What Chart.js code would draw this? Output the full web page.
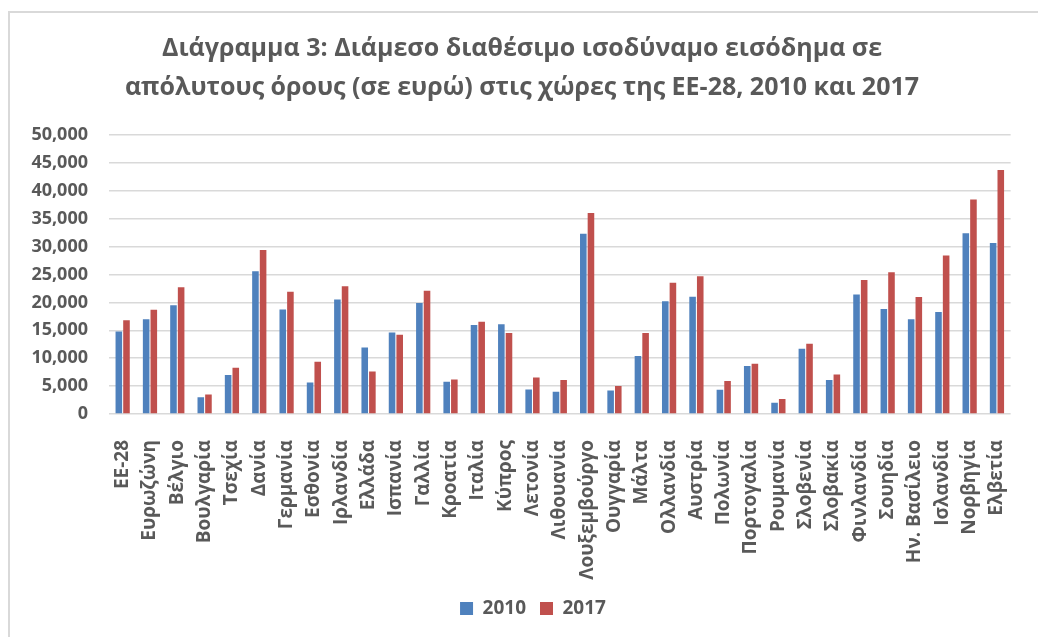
<!DOCTYPE html>
<html lang="el">
<head>
<meta charset="utf-8">
<title>Διάμεσο διαθέσιμο ισοδύναμο εισόδημα</title>
<script src="https://cdn.jsdelivr.net/npm/chart.js@4.4.1/dist/chart.umd.min.js"></script>
<style>
  html, body { margin: 0; padding: 0; background: #fff; overflow: hidden; }
  #frame { position: absolute; left: 8px; top: 11px; width: 1100px; height: 700px;
           border-left: 2px solid #d9d9d9; border-top: 2px solid #d9d9d9; }
  #wrap { position: absolute; left: 0; top: 0; width: 1038px; height: 637px; }
</style>
</head>
<body>
<div id="frame"></div>
<div id="wrap"><canvas id="incomeChart" width="1038" height="637"></canvas></div>
<script>
const countries = [
  'ΕΕ-28', 'Ευρωζώνη', 'Βέλγιο', 'Βουλγαρία', 'Τσεχία', 'Δανία', 'Γερμανία',
  'Εσθονία', 'Ιρλανδία', 'Ελλάδα', 'Ισπανία', 'Γαλλία', 'Κροατία', 'Ιταλία',
  'Κύπρος', 'Λετονία', 'Λιθουανία', 'Λουξεμβούργο', 'Ουγγαρία', 'Μάλτα',
  'Ολλανδία', 'Αυστρία', 'Πολωνία', 'Πορτογαλία', 'Ρουμανία', 'Σλοβενία',
  'Σλοβακία', 'Φινλανδία', 'Σουηδία', 'Ην. Βασίλειο', 'Ισλανδία', 'Νορβηγία', 'Ελβετία'
];

// median equivalised disposable income, euro
const income2010 = [
  14800, 17000, 19500, 3000, 7000, 25600, 18750,
  5650, 20500, 11900, 14600, 19900, 5800, 15950,
  16100, 4400, 4000, 32300, 4200, 10400,
  20200, 21000, 4350, 8600, 2000, 11700,
  6100, 21400, 18800, 17000, 18300, 32400, 30650
];
const income2017 = [
  16800, 18700, 22700, 3500, 8300, 29400, 21900,
  9350, 22900, 7600, 14200, 22100, 6200, 16550,
  14500, 6550, 6100, 36000, 5000, 14500,
  23500, 24700, 5900, 9000, 2700, 12600,
  7100, 24000, 25400, 20950, 28400, 38450, 43750
];

const yearLabels = ['2010', '2017'];
const yMin = 0;
const yMax = 50000;
const yStep = 5000;

const grey = '#595959';
const font = 'Open Sans';

// nudge the legend a little to the right of centre
const legendShift = {
  id: 'legendShift',
  afterLayout(chart) {
    chart.legend.left += 11;
    chart.legend.right += 11;
  }
};

new Chart(document.getElementById('incomeChart'), {
  type: 'bar',
  data: {
    labels: countries,
    datasets: [
      { label: yearLabels[0], data: income2010, backgroundColor: '#4f81bd' },
      { label: yearLabels[1], data: income2017, backgroundColor: '#c0504d' }
    ]
  },
  plugins: [legendShift],
  options: {
    responsive: false,
    animation: false,
    categoryPercentage: 0.56,
    barPercentage: 0.86,
    layout: { padding: { left: 22, right: 16, top: 0, bottom: 9 } },
    plugins: {
      title: {
        display: true,
        text: ['Διάγραμμα 3: Διάμεσο διαθέσιμο ισοδύναμο εισόδημα σε',
               'απόλυτους όρους (σε ευρώ) στις χώρες της ΕΕ-28, 2010 και 2017'],
        color: grey,
        font: { family: font, size: 25, weight: 'bold', lineHeight: 1.54 },
        padding: { top: 30, bottom: 28 }
      },
      legend: {
        position: 'bottom',
        labels: {
          color: grey,
          boxWidth: 13,
          boxHeight: 13,
          padding: 14,
          font: { family: font, size: 19, weight: 'bold' }
        }
      },
      tooltip: { enabled: false }
    },
    scales: {
      x: {
        grid: { display: false },
        border: { display: false },
        ticks: {
          color: grey,
          autoSkip: false,
          minRotation: 90,
          maxRotation: 90,
          padding: 18,
          font: { family: font, size: 19, weight: 'bold' }
        },
        afterFit: (scale) => { scale.height = 171; }
      },
      y: {
        min: yMin,
        max: yMax,
        border: { display: false },
        grid: { color: '#d9d9d9', lineWidth: 1.5, drawTicks: false },
        ticks: {
          stepSize: yStep,
          color: grey,
          padding: 21,
          font: { family: font, size: 18, weight: 'bold' },
          callback: (v) => v.toLocaleString('en-US')
        },
        afterFit: (scale) => { scale.width = 87; }
      }
    }
  }
});
</script>
</body>
</html>
